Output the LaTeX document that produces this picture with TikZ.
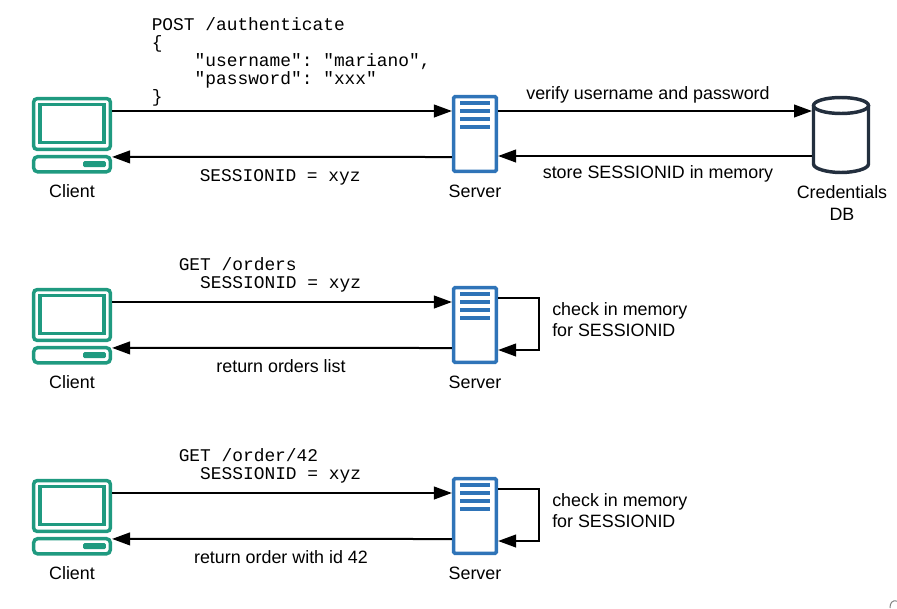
\documentclass[tikz,border=0pt]{standalone}
\usepackage{fontspec}
\setmainfont{Liberation Sans}
\setmonofont{Liberation Mono}
\usetikzlibrary{arrows.meta}
\definecolor{clientgreen}{HTML}{1F9A80}
\definecolor{serverblue}{HTML}{2F74B8}
\definecolor{dbdark}{HTML}{232F3E}
\tikzset{
	lbl/.style={anchor=base,inner sep=0.75pt,font=\fontsize{13.4pt}{16pt}\selectfont,align=center},
	lblleft/.style={lbl,anchor=north west,align=left},
	codetxt/.style={anchor=north west,inner sep=0pt,align=left,font=\fontsize{13.4pt}{13.5pt}\ttfamily\selectfont},
	flow/.style={line width=1.5pt,-{Triangle[length=13.5pt,width=9.5pt]}},
	clientmonitor/.style={draw=clientgreen,line width=2.6pt,rounded corners=2.5pt,minimum width=57.5pt,minimum height=38pt,inner sep=0pt},
	clientscreen/.style={draw=clientgreen,line width=2.6pt,minimum width=47.75pt,minimum height=28.25pt,inner sep=0pt},
	clientbase/.style={draw=clientgreen,line width=2.6pt,rounded corners=3pt,minimum width=57.5pt,minimum height=11.4pt,inner sep=0pt},
	clientkey/.style={fill=clientgreen,rounded corners=1pt,minimum width=17pt,minimum height=4.5pt,inner sep=0pt},
	serverbox/.style={draw=serverblue,line width=2.6pt,rounded corners=1pt,minimum width=32pt,minimum height=56pt,inner sep=0pt},
	dbbox/.style={minimum width=41.25pt,minimum height=56.25pt,inner sep=0pt,outer sep=1.1pt},
	clientpc/.pic={
		\node [clientmonitor] (monitor) at (0,11.5) {};
		\node [clientscreen] (screen) at (0,12) {};
		\node [clientbase] (base) at (0,-28.75) {};
		\node [clientkey] (key) at (22.5,-28.5) {};
	},
	serverpc/.pic={
		\node [serverbox] (box) at (0,0) {};
		\foreach \ly in {31,23,15,7}
			\draw [serverblue,line width=2.6pt] (-15,\ly) -- (15,\ly);
	},
	dbdrum/.pic={
		\node [dbbox] (box) at (0,0) {};
		\draw [dbdark,line width=2.6pt] (-27.5,29.5) -- (-27.5,-29) .. controls (-27.5,-34) and (-13,-37.5) .. (0,-37.5) .. controls (13,-37.5) and (27.5,-34) .. (27.5,-29) -- (27.5,29.5);
		\draw [dbdark,line width=2.6pt] (0,29.5) ellipse [x radius=27.5,y radius=8];
	},
}
\begin{document}
\begin{tikzpicture}[x=0.75pt,y=0.75pt,yscale=-1,xscale=1]
	\useasboundingbox (0,0) rectangle (897,608);

	\pic (cl1) at (72,135.5) {clientpc};
	\pic (cl2) at (72,326.5) {clientpc};
	\pic (cl3) at (72,517.5) {clientpc};
	\pic (srv1) at (475,134) {serverpc};
	\pic (srv2) at (475,325) {serverpc};
	\pic (srv3) at (475,516) {serverpc};
	\pic (db) at (841,135) {dbdrum};

	\draw [flow] ([yshift=-9.75pt]cl1monitor.east) -- ([yshift=-17.25pt]srv1box.west);
	\draw [flow] ([yshift=17.25pt]srv1box.west) -- ([yshift=1.5pt]cl1base.north east);
	\draw [flow] ([yshift=-17.25pt]srv1box.east) -- ([yshift=-18pt]dbbox.west);
	\draw [flow] ([yshift=15.75pt]dbbox.west) -- ([yshift=16.5pt]srv1box.east);

	\draw [flow] ([yshift=-9.75pt]cl2monitor.east) -- ([yshift=-17.25pt]srv2box.west);
	\draw [flow] ([yshift=17.25pt]srv2box.west) -- ([yshift=1.5pt]cl2base.north east);
	\draw [flow] ([yshift=-20.25pt]srv2box.east) -- ++(41,0) -- ++(0,52) -- ([yshift=18.75pt]srv2box.east);

	\draw [flow] ([yshift=-9.75pt]cl3monitor.east) -- ([yshift=-17.25pt]srv3box.west);
	\draw [flow] ([yshift=17.25pt]srv3box.west) -- ([yshift=1.5pt]cl3base.north east);
	\draw [flow] ([yshift=-20.25pt]srv3box.east) -- ++(41,0) -- ++(0,52) -- ([yshift=18.75pt]srv3box.east);

	\node [codetxt] (post) at (151.5,17) {POST /authenticate\\\{\\\phantom{xxxx}"username": "mariano",\\\phantom{xxxx}"password": "xxx"\\\}};
	\node [codetxt] (sess1) at (199.5,169) {SESSIONID = xyz};
	\node [codetxt] (get1) at (178.5,257) {GET /orders\\\phantom{xx}SESSIONID = xyz};
	\node [codetxt] (get2) at (178.5,448) {GET /order/42\\\phantom{xx}SESSIONID = xyz};

	\node [lbl] (lclient1) at (72,197) {Client};
	\node [lbl] (lclient2) at (72,388) {Client};
	\node [lbl] (lclient3) at (72,579) {Client};
	\node [lbl] (lserver1) at (475,197) {Server};
	\node [lbl] (lserver2) at (475,388) {Server};
	\node [lbl] (lserver3) at (475,579) {Server};
	\node [lbl] (ldb) at (842,220) {Credentials\\DB};
	\node [lbl] (lverify) at (648,99) {verify username and password};
	\node [lbl] (lstore) at (658,178) {store SESSIONID in memory};
	\node [lbl] (lorders) at (281,372) {return orders list};
	\node [lbl] (lorder) at (281,563) {return order with id 42};
	\node [lblleft] (lcheck1) at (551,301) {check in memory\\for SESSIONID};
	\node [lblleft] (lcheck2) at (551,492) {check in memory\\for SESSIONID};

	\draw [gray,line width=0.75pt] (897,601) .. controls (892,600) and (890,603) .. (890,608);
\end{tikzpicture}
\end{document}
